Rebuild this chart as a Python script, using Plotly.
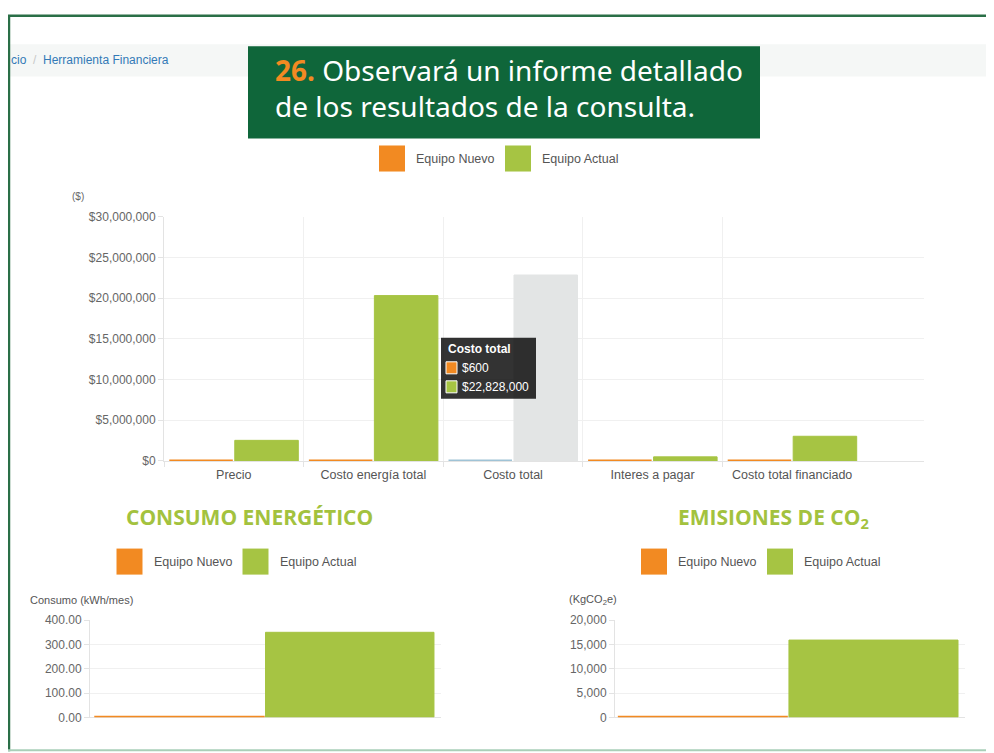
import plotly.graph_objects as go

# measured placement of the figure inside the screenshot:
#   screen_x = fig_x + 8 ;  screen_y = 0.98 * fig_y + 14.7
OX, OY, SY = 8, 14.7, 0.98
W, H = 986, 753

# ---------------- data ----------------
categories = ["Precio", "Costo energía total", "Costo total", "Interes a pagar", "Costo total financiado"]
series_names = ["Equipo Nuevo", "Equipo Actual"]
costos_nuevo = [500, 100, 600, 50, 550]
costos_actual = [2528000, 20300000, 22828000, 500000, 3028000]
costos_yticks = [0, 5000000, 10000000, 15000000, 20000000, 25000000, 30000000]

consumo_nuevo = [2.0]
consumo_actual = [350.0]
consumo_yticks = [0, 100, 200, 300, 400]

emisiones_nuevo = [90]
emisiones_actual = [15900]
emisiones_yticks = [0, 5000, 10000, 15000, 20000]

hover_index = 2  # "Costo total" shown hovered with tooltip

# ---------------- styles ----------------
ORANGE = "#f28a22"
GREEN = "#a6c443"
HOVER_N = "#9fc3d6"
HOVER_A = "#e3e5e5"
DKGREEN = "#0f663a"
TITLEGREEN = "#a3c23e"
FONT = "Liberation Sans, Arial, sans-serif"
TICK = "#666666"
GRID = "#f0f0f0"
LINE = "#e3e3e3"


def px(x):
    return (x - OX) / W


def py(y):
    return 1 - ((y - OY) / SY) / H


fig = go.Figure()

# main chart
col_n = [HOVER_N if i == hover_index else ORANGE for i in range(len(categories))]
col_a = [HOVER_A if i == hover_index else GREEN for i in range(len(categories))]
xs = list(range(len(categories)))
fig.add_trace(go.Bar(x=xs, y=costos_nuevo, name=series_names[0], marker=dict(color=col_n, line=dict(color=col_n, width=3)),
                     offset=-0.462, width=0.455, cliponaxis=False, xaxis="x", yaxis="y", showlegend=False))
fig.add_trace(go.Bar(x=xs, y=costos_actual, name=series_names[1], marker=dict(color=col_a, line=dict(color=col_a, width=1)),
                     offset=0.007, width=0.455, cliponaxis=False, xaxis="x", yaxis="y", showlegend=False))

# consumo chart
fig.add_trace(go.Bar(x=[0], y=consumo_nuevo, name=series_names[0], marker=dict(color=ORANGE, line=dict(color=ORANGE, width=2)),
                     offset=-0.485, width=0.48, cliponaxis=False, xaxis="x2", yaxis="y2", showlegend=False))
fig.add_trace(go.Bar(x=[0], y=consumo_actual, name=series_names[1], marker=dict(color=GREEN, line=dict(color=GREEN, width=1)),
                     offset=0.0, width=0.48, cliponaxis=False, xaxis="x2", yaxis="y2", showlegend=False))

# emisiones chart
fig.add_trace(go.Bar(x=[0], y=emisiones_nuevo, name=series_names[0], marker=dict(color=ORANGE, line=dict(color=ORANGE, width=2)),
                     offset=-0.489, width=0.48, cliponaxis=False, xaxis="x3", yaxis="y3", showlegend=False))
fig.add_trace(go.Bar(x=[0], y=emisiones_actual, name=series_names[1], marker=dict(color=GREEN, line=dict(color=GREEN, width=1)),
                     offset=-0.003, width=0.483, cliponaxis=False, xaxis="x3", yaxis="y3", showlegend=False))

common_y = dict(showgrid=True, gridcolor=GRID, ticks="outside", ticklen=5, tickcolor=LINE,
                showline=True, linecolor=LINE, zeroline=False, tickfont=dict(family=FONT, size=12, color=TICK),
                layer="below traces", fixedrange=True)
common_x = dict(showgrid=False, showline=True, linecolor=LINE, zeroline=False, layer="below traces", fixedrange=True)

fig.update_layout(
    width=W, height=H, margin=dict(l=0, r=0, t=0, b=0), autosize=False,
    paper_bgcolor="white", plot_bgcolor="white",
    barmode="overlay", showlegend=False,
    font=dict(family=FONT, size=12, color=TICK),
    xaxis=dict(domain=[px(164), px(924)], anchor="y", range=[-0.5, -0.5 + 760 / 139.6],
               tickmode="array", tickvals=xs, ticktext=categories, ticks="",
               ticklabelstandoff=2, tickfont=dict(family=FONT, size=12.5, color="#555555"),
               minor=dict(tickmode="array", tickvals=[-0.5, 0.5, 1.5, 2.5, 3.5], showgrid=True, gridcolor=GRID,
                          ticks="outside", ticklen=5, tickcolor=LINE),
               **common_x),
    yaxis=dict(domain=[py(460), py(216)], anchor="x", range=[0, 30000000], tickmode="array",
               tickvals=costos_yticks, tickformat="$,.0f", **common_y),
    xaxis2=dict(domain=[px(90), px(441)], anchor="y2", range=[-0.5, 0.5], showticklabels=False, ticks="", **common_x),
    yaxis2=dict(domain=[py(716), py(619)], anchor="x2", range=[0, 400], tickmode="array",
                tickvals=consumo_yticks, tickformat=".2f", **common_y),
    xaxis3=dict(domain=[px(615), px(965)], anchor="y3", range=[-0.5, 0.5], showticklabels=False, ticks="", **common_x),
    yaxis3=dict(domain=[py(716), py(619)], anchor="x3", range=[0, 20000], tickmode="array",
                tickvals=emisiones_yticks, tickformat=",d", **common_y),
)

shapes = []
ann = []


def rect(x0, y0, x1, y1, color, layer="below", line=None):
    shapes.append(dict(type="rect", xref="paper", yref="paper", x0=px(x0), x1=px(x1), y0=py(y1), y1=py(y0),
                       fillcolor=color, line=line or dict(width=0), layer=layer))


def text(x, y, s, size=12, color=TICK, xanchor="left", family=FONT, yanchor="middle"):
    ann.append(dict(xref="paper", yref="paper", x=px(x), y=py(y), text=s, showarrow=False,
                    xanchor=xanchor, yanchor=yanchor, font=dict(family=family, size=size, color=color)))


# page frame
shapes.append(dict(type="line", xref="paper", yref="paper", x0=0, x1=1, y0=0.999, y1=0.999,
                   line=dict(color="#2a6f47", width=2.5)))
shapes.append(dict(type="line", xref="paper", yref="paper", x0=0.001, x1=0.001, y0=py(750), y1=1,
                   line=dict(color="#2a6f47", width=2.5)))
shapes.append(dict(type="line", xref="paper", yref="paper", x0=0, x1=1, y0=py(749), y1=py(749),
                   line=dict(color="#a9cfb8", width=2)))

# breadcrumb bar
rect(9, 44, 1000, 76, "#f5f7f6")
text(9, 60, "<span style='color:#337ab7'>cio</span>  <span style='color:#c8c8c8'>/</span>  "
            "<span style='color:#337ab7'>Herramienta Financiera</span>", size=12)

# title box
rect(248, 46, 760, 138, DKGREEN, layer="above")
ann.append(dict(xref="paper", yref="paper", x=px(273), y=py(88), xanchor="left", yanchor="middle", align="left",
                showarrow=False,
                text="<b><span style='color:#f28a22'>26.</span></b> Observará un informe detallado<br>de los resultados de la consulta.",
                font=dict(family="Noto Sans, Open Sans, sans-serif", size=28, color="white")))


# legends
def legend(xo, xg, ycenter, textsize=12.5):
    rect(xo, ycenter - 13, xo + 26, ycenter + 13, ORANGE, layer="above")
    text(xo + 35, ycenter, series_names[0], size=textsize, color="#555555")
    rect(xg, ycenter - 13, xg + 26, ycenter + 13, GREEN, layer="above")
    text(xg + 35, ycenter, series_names[1], size=textsize, color="#555555")


legend(379, 505, 158)
legend(116.5, 242.5, 560.5)
legend(641, 767, 560.5)

# axis titles
text(70, 196, "($)", size=10)
text(28, 599, "Consumo (kWh/mes)", size=11, color="#555555")
text(567, 599, "(KgCO<sub>2</sub>e)", size=11, color="#555555")

# section titles
text(249, 516, "<b>CONSUMO ENERGÉTICO</b>", size=21, color=TITLEGREEN, xanchor="center",
     family="Open Sans, Noto Sans, sans-serif")
text(773, 517, "<b>EMISIONES DE CO<sub>2</sub></b>", size=21, color=TITLEGREEN, xanchor="center",
     family="Open Sans, Noto Sans, sans-serif")

# tooltip (hovered "Costo total")
rect(441, 337, 536, 398, "rgba(0,0,0,0.8)", layer="above")
text(446, 348.5, "<b>{}</b>".format(categories[hover_index]), size=12, color="white")
rect(446, 361, 457, 373, ORANGE, layer="above", line=dict(color="white", width=1))
text(460, 367, "${:,.0f}".format(costos_nuevo[hover_index]), size=12, color="white")
rect(446, 380, 457, 392, GREEN, layer="above", line=dict(color="white", width=1))
text(460, 386, "${:,.0f}".format(costos_actual[hover_index]), size=12, color="white")

fig.update_layout(shapes=shapes, annotations=ann)
fig.write_html("out.html")
